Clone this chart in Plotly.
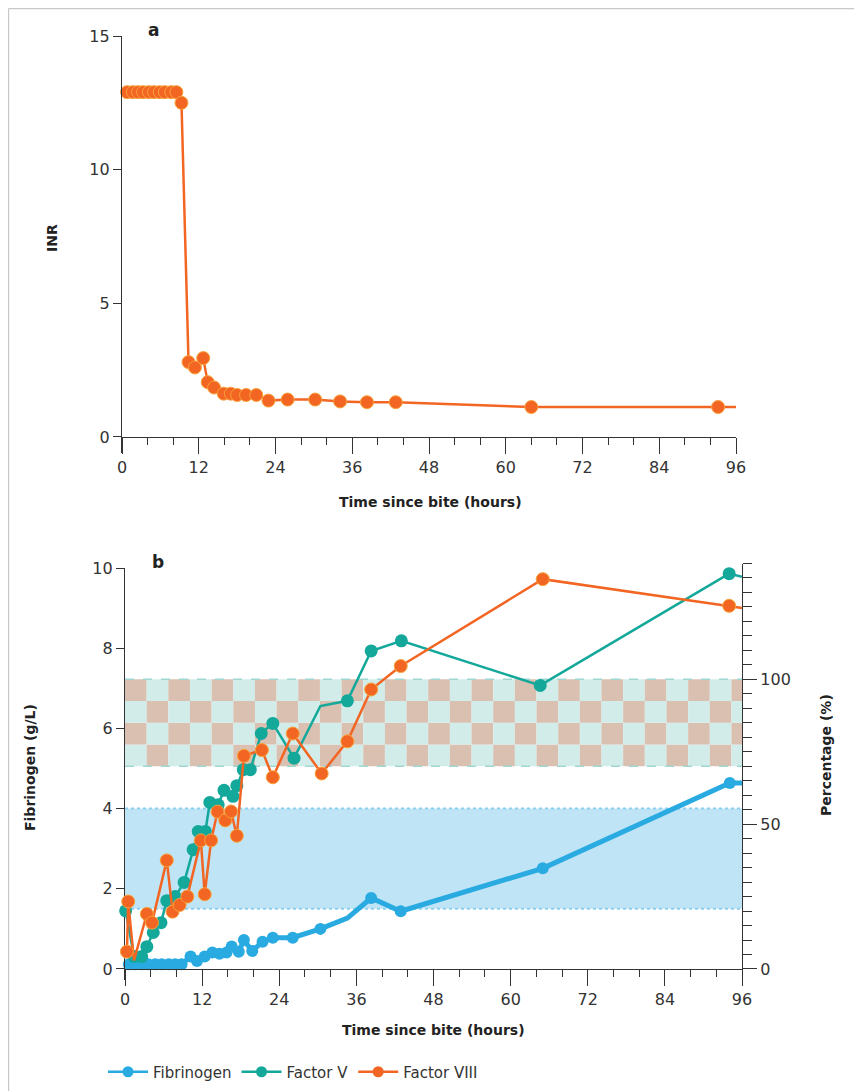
import plotly.graph_objects as go

W, H = 862, 1091
OFF = 8  # page body margin offset

# ---------------- data ----------------
inr_hours = [0.8, 1.7, 2.5, 3.3, 4.2, 5.0, 5.9, 6.7, 7.7, 8.5, 9.3, 10.4, 11.4, 12.7, 13.4,
             14.4, 15.9, 17.0, 18.0, 19.4, 21.0, 22.9, 25.9, 30.2, 34.1, 38.3, 42.8, 64.0, 93.2, 96.0]
inr_values = [12.9, 12.9, 12.9, 12.9, 12.9, 12.9, 12.9, 12.9, 12.9, 12.9, 12.5, 2.8, 2.6, 2.95, 2.05,
              1.85, 1.62, 1.62, 1.57, 1.57, 1.57, 1.36, 1.40, 1.40, 1.33, 1.30, 1.30, 1.12, 1.12, 1.12]
inr_marked = [1] * 29 + [0]

fib_hours = [0.6, 1.6, 2.6, 3.6, 4.7, 5.7, 6.8, 7.8, 8.8, 10.2, 11.2, 12.4, 13.6, 14.7, 15.8,
             16.6, 17.7, 18.5, 19.8, 21.4, 23.0, 26.1, 30.4, 34.6, 38.3, 42.9, 65.0, 94.1, 96.0]
fib_values = [0.12, 0.12, 0.12, 0.12, 0.12, 0.12, 0.12, 0.12, 0.12, 0.31, 0.20, 0.31, 0.41, 0.38, 0.41,
              0.56, 0.43, 0.72, 0.45, 0.68, 0.78, 0.78, 1.00, 1.27, 1.77, 1.44, 2.51, 4.64, 4.64]
fib_marked = [1] * 23 + [0] + [1] * 4 + [0]

fv_hours = [0.1, 1.4, 2.6, 3.4, 4.4, 5.6, 6.5, 7.8, 9.2, 10.6, 11.4, 12.5, 13.2, 14.5, 15.4,
            16.8, 17.4, 18.4, 19.5, 21.2, 23.0, 26.3, 30.4, 34.6, 38.3, 43.0, 64.6, 94.0, 96.0]
fv_values = [20.1, 4.3, 4.3, 7.7, 12.6, 16.0, 23.6, 25.0, 29.9, 41.2, 47.5, 47.5, 57.5, 56.7, 61.7,
             59.6, 63.3, 68.8, 68.8, 81.3, 84.8, 72.8, 90.8, 92.6, 109.8, 113.3, 97.9, 136.5, 135.4]
fv_marked = [1] * 22 + [0] + [1] * 5 + [0]

f8_hours = [0.3, 0.5, 1.4, 3.4, 4.2, 6.5, 7.4, 8.5, 9.7, 11.8, 12.4, 13.4, 14.4, 15.6, 16.5,
            17.4, 18.5, 21.3, 23.0, 26.1, 30.6, 34.6, 38.3, 42.9, 65.0, 94.0, 96.0]
f8_values = [6.0, 23.3, 3.0, 19.0, 16.0, 37.5, 19.8, 22.1, 25.0, 44.4, 25.8, 44.4, 54.3, 51.3, 54.4,
             46.0, 73.6, 75.6, 66.2, 81.3, 67.5, 78.6, 96.5, 104.6, 134.6, 125.4, 124.6]
f8_marked = [1, 1, 0] + [1] * 23 + [0]

fib_normal = [1.5, 4.0]      # g/L
factor_normal = [70, 100]    # %
x_ticks = [0, 12, 24, 36, 48, 60, 72, 84, 96]
inr_ticks = [0, 5, 10, 15]
fib_ticks = [0, 2, 4, 6, 8, 10]
pct_ticks = [0, 50, 100]
series_names = ["Fibrinogen", "Factor V", "Factor VIII"]

# ---------------- style ----------------
ORANGE = "#f26522"
ORANGE_EDGE = "#f9a23a"
TEAL = "#14a89b"
BLUE = "#29abe2"
AX = "#333333"
FONT = "DejaVu Sans"


def px(x):
    return (x - OFF) / W


def py(y):
    return (H - (y - OFF)) / H


def op(flags):
    return [1 if f else 0 for f in flags]


fig = go.Figure()

# Panel a
fig.add_trace(go.Scatter(
    x=inr_hours, y=inr_values, xaxis="x", yaxis="y", mode="lines+markers",
    line=dict(color=ORANGE, width=2.5),
    marker=dict(size=13, color=ORANGE, opacity=op(inr_marked), line=dict(color=ORANGE_EDGE, width=1)),
    showlegend=False, cliponaxis=False))

# Panel b
fig.add_trace(go.Scatter(
    x=fib_hours, y=fib_values, xaxis="x2", yaxis="y2", mode="lines+markers",
    line=dict(color=BLUE, width=5),
    marker=dict(size=12, color=BLUE, opacity=op(fib_marked)),
    showlegend=False, cliponaxis=False))
fig.add_trace(go.Scatter(
    x=fv_hours, y=fv_values, xaxis="x2", yaxis="y3", mode="lines+markers",
    line=dict(color=TEAL, width=2.5),
    marker=dict(size=13, color=TEAL, opacity=op(fv_marked)),
    showlegend=False, cliponaxis=False))
fig.add_trace(go.Scatter(
    x=f8_hours, y=f8_values, xaxis="x2", yaxis="y3", mode="lines+markers",
    line=dict(color=ORANGE, width=2.5),
    marker=dict(size=13, color=ORANGE, opacity=op(f8_marked), line=dict(color=ORANGE_EDGE, width=1)),
    showlegend=False, cliponaxis=False))

# legend entries
for name, col in zip(series_names, [BLUE, TEAL, ORANGE]):
    fig.add_trace(go.Scatter(
        x=[None], y=[None], xaxis="x2", yaxis="y2", mode="lines+markers", name=name,
        line=dict(color=col, width=2.5), marker=dict(size=11, color=col)))

tickfont = dict(family=FONT, size=16, color=AX)
common_x = dict(range=[0, 96], tickvals=x_ticks, ticks="outside", ticklen=16, tickwidth=1.3,
                tickcolor=AX, showline=True, linecolor=AX, linewidth=1.3, showgrid=False,
                zeroline=False, tickfont=tickfont, anchor="free", automargin=False,
                minor=dict(dtick=4, tick0=0, ticks="outside", ticklen=7, tickwidth=1.3, tickcolor=AX))
common_y = dict(ticks="outside", ticklen=8, tickwidth=1.3, tickcolor=AX, showline=True,
                linecolor=AX, linewidth=1.3, showgrid=False, zeroline=False, tickfont=tickfont,
                automargin=False)

shapes = []
# fibrinogen normal range
shapes.append(dict(type="rect", xref="x2", yref="y2", x0=0, x1=96, y0=fib_normal[0], y1=fib_normal[1],
                   fillcolor="#bfe4f5", line=dict(width=0), layer="below"))
for v in fib_normal:
    shapes.append(dict(type="line", xref="x2", yref="y2", x0=0, x1=96, y0=v, y1=v,
                       line=dict(color="#8dcff0", width=2, dash="dot"), layer="below"))
# factor normal range checkerboard
ncols = 29
colw = 3.37
nrows = 4
rowh = (factor_normal[1] - factor_normal[0]) / nrows
for c in range(ncols):
    x0 = c * colw
    x1 = min(96, (c + 1) * colw)
    if x0 >= 96:
        break
    for r in range(nrows):
        colr = "#d2ecea" if (c + r) % 2 == 0 else "#d9c0b1"
        shapes.append(dict(type="rect", xref="x2", yref="y3", x0=x0, x1=x1,
                           y0=factor_normal[0] + r * rowh, y1=factor_normal[0] + (r + 1) * rowh,
                           fillcolor=colr, line=dict(width=0), layer="below"))
for v in factor_normal:
    shapes.append(dict(type="line", xref="x2", yref="y3", x0=0, x1=96, y0=v, y1=v,
                       line=dict(color="#9fd8d3", width=1.5, dash="dash"), layer="below"))
# frame
shapes.append(dict(type="line", xref="paper", yref="paper", x0=px(8.6), x1=px(8.6), y0=0, y1=py(8.6),
                   line=dict(color="#c8c8c8", width=1.2)))
shapes.append(dict(type="line", xref="paper", yref="paper", x0=px(8.6), x1=1, y0=py(8.6), y1=py(8.6),
                   line=dict(color="#c8c8c8", width=1.2)))

title_font = dict(family=FONT, size=14, color="#222", weight="bold")
label_font = dict(family=FONT, size=17, color="#222", weight="bold")


def ann(text, x, y, font, angle=0):
    return dict(text=text, x=px(x), y=py(y), xref="paper", yref="paper", showarrow=False,
                xanchor="center", yanchor="middle", textangle=angle, font=font)


annotations = [
    ann("a", 153, 30, label_font),
    ann("b", 158, 562, label_font),
    ann("INR", 52, 238, title_font, -90),
    ann("Time since bite (hours)", 430, 502, title_font),
    ann("Time since bite (hours)", 433, 1030, title_font),
    ann("Fibrinogen (g/L)", 30, 768, title_font, -90),
    ann("Percentage (%)", 826, 755, title_font, -90),
]

fig.update_layout(
    width=W, height=H, margin=dict(l=0, r=0, t=0, b=0, autoexpand=False),
    paper_bgcolor="white", plot_bgcolor="rgba(0,0,0,0)",
    xaxis=dict(domain=[px(122), px(736)], position=py(437), **common_x),
    yaxis=dict(domain=[py(453), py(36)], range=[-0.6, 15], tickvals=inr_ticks, anchor="x", **common_y),
    xaxis2=dict(domain=[px(125), px(742)], position=py(969), **common_x),
    yaxis2=dict(domain=[py(980), py(568)], range=[-0.275, 10], tickvals=fib_ticks, anchor="x2", **common_y),
    yaxis3=dict(domain=[py(980), py(563.5)], range=[-3.8, 140], tickvals=pct_ticks, anchor="x2",
                side="right", ticks="outside", ticklen=14, tickwidth=1.3, tickcolor=AX, showline=True,
                linecolor=AX, linewidth=1.3, showgrid=False, zeroline=False, tickfont=tickfont,
                automargin=False,
                minor=dict(dtick=5, tick0=0, ticks="outside", ticklen=9, tickwidth=1.3, tickcolor=AX)),
    shapes=shapes, annotations=annotations,
    legend=dict(orientation="h", x=px(103), y=py(1072), xanchor="left", yanchor="middle",
                itemwidth=40, font=dict(family=FONT, size=15, color=AX), bgcolor="rgba(0,0,0,0)"),
)

fig.write_html("out.html")
